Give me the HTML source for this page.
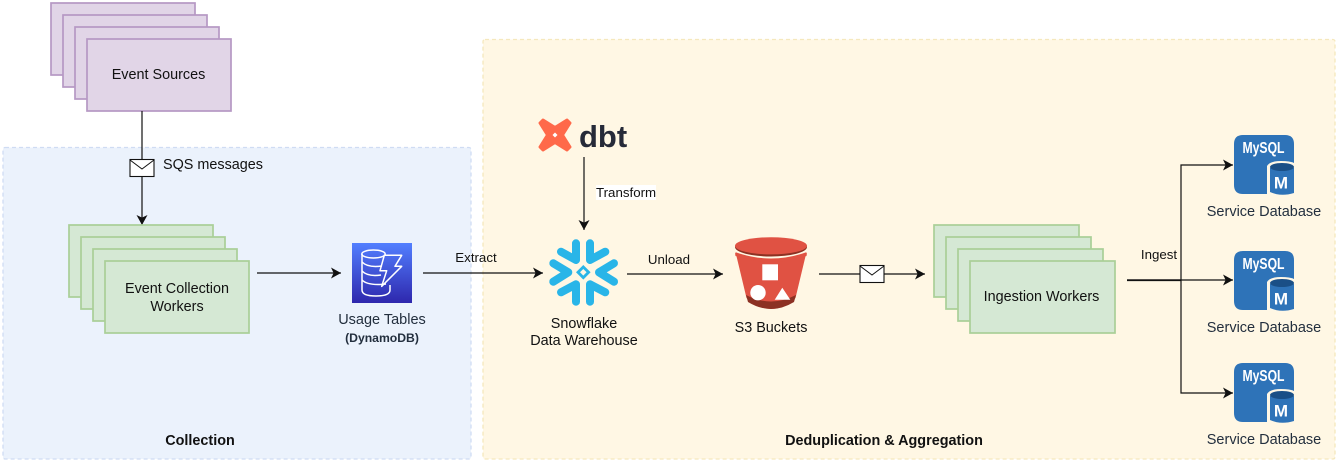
<!DOCTYPE html>
<html><head><meta charset="utf-8"><style>
html,body{margin:0;padding:0;background:#fff;width:1338px;height:462px;overflow:hidden}
svg{display:block}
text{font-family:"Liberation Sans",sans-serif;font-size:14.4px;fill:#111}
.m{text-anchor:middle}
.s{font-size:13.3px}
.g{fill:#d5e8d4;stroke:#a9cf97;stroke-width:1.7}
.p{fill:#e1d5e7;stroke:#b698c4;stroke-width:1.7}
.l{stroke:#111;stroke-width:1.2;fill:none}
</style></head><body>
<svg width="1338" height="462" viewBox="0 0 1338 462" xmlns="http://www.w3.org/2000/svg">
<defs>
<linearGradient id="dy" x1="0" y1="1" x2="0" y2="0"><stop offset="0" stop-color="#2e27ad"/><stop offset="1" stop-color="#527fff"/></linearGradient>
<marker id="a" markerUnits="userSpaceOnUse" markerWidth="12" markerHeight="12" refX="10" refY="6" orient="auto"><path d="M0 0.5 L10 6 L0 11.5 L2.6 6Z" fill="#111"/></marker>
<g id="my">
<path d="M9 0H51Q60 0 60 9V59H9Q0 59 0 50V9Q0 0 9 0Z" fill="#2e73b8"/>
<path d="M33 59V31Q36 26 47 26Q56 26 60 28V60H33Z" fill="#fef7e6"/>
<path d="M36 33V57Q47 62 60 58V33Z" fill="#2e73b8"/>
<ellipse cx="48" cy="32" rx="12" ry="4" fill="#1a4f86"/>
<text x="8.500" y="18" textLength="42" lengthAdjust="spacingAndGlyphs" style="font-size:16px;font-weight:700;fill:#fff">MySQL</text>
<text x="47" y="53.500" style="font-size:17px;font-weight:700;fill:#fff;text-anchor:middle">M</text>
</g>
</defs>
<rect x="3" y="147.500" width="468" height="311.500" rx="2" fill="#ebf2fc" stroke="#cfdcf3" stroke-width="1.3" stroke-dasharray="4 3"/>
<rect x="483" y="39.500" width="852" height="419.500" rx="2" fill="#fff7e4" stroke="#f5e8bd" stroke-width="1.300" stroke-dasharray="4 3"/>

<rect class="p" x="51" y="3" width="144" height="72"/>
<rect class="p" x="63" y="15" width="144" height="72"/>
<rect class="p" x="75" y="27" width="144" height="72"/>
<rect class="p" x="87" y="39" width="144" height="72"/>
<text class="m" x="158.500" y="79">Event Sources</text>

<path class="l" d="M142 111V225" marker-end="url(#a)"/>
<rect x="130" y="159.500" width="24" height="17" fill="#fff" stroke="#111" stroke-width="1.100"/>
<path d="M130 160L142 169L154 160" fill="none" stroke="#111" stroke-width="1"/>
<text x="163" y="169">SQS messages</text>

<rect class="g" x="69" y="225" width="144" height="72"/>
<rect class="g" x="81" y="237" width="144" height="72"/>
<rect class="g" x="93" y="249" width="144" height="72"/>
<rect class="g" x="105" y="261" width="144" height="72"/>
<text class="m" x="177" y="293">Event Collection</text>
<text class="m" x="177" y="311">Workers</text>

<path class="l" d="M257 273H341" marker-end="url(#a)"/>

<rect x="352" y="243" width="60" height="60" fill="url(#dy)"/>
<g fill="none" stroke="#fff" stroke-width="1.500" stroke-linejoin="round">
<ellipse cx="373.500" cy="254" rx="11.700" ry="4"/>
<path d="M362 254V290Q362 296 376 296Q390 296 390 290V285"/>
<path d="M362 262Q368 268 382 266M362 271Q368 277 381 275M362 280Q368 286 386 284"/>
<path d="M384.300 255.300H401.700L395 266.300H401.700L381.700 286.300L386.700 270.700H380Z"/>
</g>
<text class="m" x="382" y="324" style="font-size:14.500px;fill:#232f3e">Usage Tables</text>
<text class="m" x="382" y="342" style="font-size:12.200px;font-weight:700;fill:#232f3e">(DynamoDB)</text>

<path class="l" d="M423 273H543" marker-end="url(#a)"/>
<text class="m s" x="476" y="262">Extract</text>

<path d="M543 120L555 127.500L567 120L570 123L562.500 135L570 147L567 150L555 142.500L543 150L540 147L547.500 135L540 123Z" fill="#ff694a" stroke="#ff694a" stroke-width="3" stroke-linejoin="round"/>
<path d="M555 132.500L557.500 135L555 137.500L552.500 135Z" fill="#fff"/>
<text x="579" y="147" style="font-size:31px;font-weight:700;fill:#262a38">dbt</text>

<path class="l" d="M584 157V230" marker-end="url(#a)"/>
<rect x="596" y="185" width="60" height="15" fill="#fff"/>
<text class="s" x="596" y="197">Transform</text>

<g stroke="#29b5e8" stroke-width="8" stroke-linecap="round" fill="none" stroke-linejoin="round">
<path d="M561 251.700L576 260V243.300"/>
<path d="M605.300 251.700L590 260V243.300"/>
<path d="M553.300 263.300L568.300 272.300L553.300 281.700"/>
<path d="M614 263.300L599 272.300L614 281.700"/>
<path d="M561 292.300L576 284.300V301.700"/>
<path d="M605.300 292.300L590 284.300V301.700"/>
</g>
<path d="M583.300 265L590.600 272.300L583.300 279.600L576 272.300Z" fill="#29b5e8"/>
<path d="M583.300 269L586.600 272.300L583.300 275.600L580 272.300Z" fill="#fff7e4"/>
<text class="m" x="584" y="328">Snowflake</text>
<text class="m" x="584" y="345">Data Warehouse</text>

<path class="l" d="M627 274H723" marker-end="url(#a)"/>
<text class="m s" x="669" y="264">Unload</text>

<path d="M735 250L746.500 298Q771 320 795.500 298L807 250Z" fill="#e05243"/>
<path d="M746 295L748 302Q771 316 794 302L796 295Q771 308 746 295Z" fill="#8c3123"/>
<path d="M735 246V252Q771 265 807 252V246Z" fill="#fff7e4"/>
<path d="M735 253Q771 266 807 253L806.500 256Q771 268 735.500 256Z" fill="#e05243"/>
<ellipse cx="771" cy="247" rx="36" ry="9.500" fill="#8c3123"/>
<ellipse cx="771" cy="245.800" rx="36" ry="8.600" fill="#e05243"/>
<rect x="762.300" y="264.300" width="15.700" height="16" fill="#fff"/>
<circle cx="758" cy="292.700" r="7.700" fill="#fff"/>
<path d="M782.300 287.700L790.300 299.700H774.700Z" fill="#fff"/>
<text class="m" x="771" y="332">S3 Buckets</text>

<path class="l" d="M819 274H925" marker-end="url(#a)"/>
<rect x="860" y="265.500" width="24" height="17" fill="#fff" stroke="#111" stroke-width="1.100"/>
<path d="M860 266L872 275L884 266" fill="none" stroke="#111" stroke-width="1"/>

<rect class="g" x="934" y="225" width="145" height="72"/>
<rect class="g" x="946" y="237" width="145" height="72"/>
<rect class="g" x="958" y="249" width="145" height="72"/>
<rect class="g" x="970" y="261" width="145" height="72"/>
<text class="m" x="1041.500" y="301">Ingestion Workers</text>

<path class="l" d="M1127 280H1181V165H1233" marker-end="url(#a)"/>
<path class="l" d="M1127 280H1233" marker-end="url(#a)"/>
<path class="l" d="M1127 280.500H1181V393H1233" marker-end="url(#a)"/>
<text class="m s" x="1159" y="259">Ingest</text>

<use href="#my" x="1234" y="135"/>
<use href="#my" x="1234" y="251"/>
<use href="#my" x="1234" y="363"/>
<text class="m" x="1264" y="216" style="font-size:14.500px;fill:#232f3e">Service Database</text>
<text class="m" x="1264" y="332" style="font-size:14.500px;fill:#232f3e">Service Database</text>
<text class="m" x="1264" y="444" style="font-size:14.500px;fill:#232f3e">Service Database</text>

<text class="m" x="200" y="445" style="font-weight:700">Collection</text>
<text class="m" x="884" y="445" style="font-weight:700">Deduplication &amp; Aggregation</text>
</svg>
</body></html>
